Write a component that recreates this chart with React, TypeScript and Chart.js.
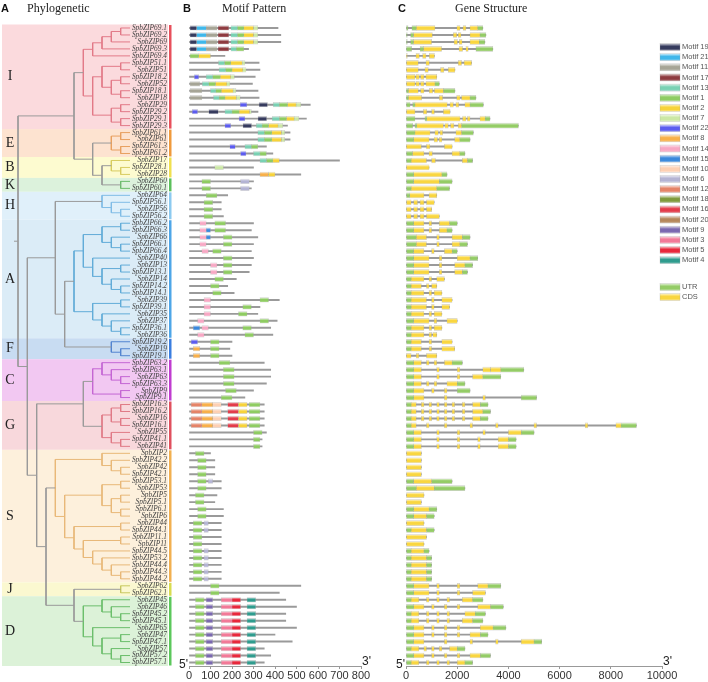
import React, { useEffect, useRef } from "react";
import { Chart, registerables } from "chart.js";
Chart.register(...registerables);

// ---------------- DATA ----------------
const geneNames = [
  "SpbZIP69.1","SpbZIP69.2","SpbZIP69","SpbZIP69.3","SpbZIP69.4","SpbZIP51.1","SpbZIP51","SpbZIP18.2","SpbZIP52","SpbZIP18.1","SpbZIP18","SpbZIP29","SpbZIP29.2","SpbZIP29.1","SpbZIP29.3",
  "SpbZIP61.1","SpbZIP61","SpbZIP61.3","SpbZIP61.2",
  "SpbZIP17","SpbZIP28.1","SpbZIP28",
  "SpbZIP60","SpbZIP60.1",
  "SpbZIP64","SpbZIP56.1","SpbZIP56","SpbZIP56.2",
  "SpbZIP66.2","SpbZIP66.3","SpbZIP66","SpbZIP66.1","SpbZIP66.4","SpbZIP40","SpbZIP13","SpbZIP13.1","SpbZIP14","SpbZIP14.2","SpbZIP14.1","SpbZIP39","SpbZIP39.1","SpbZIP35","SpbZIP37","SpbZIP36.1","SpbZIP36",
  "SpbZIP19.2","SpbZIP19","SpbZIP19.1",
  "SpbZIP63.2","SpbZIP63.1","SpbZIP63","SpbZIP63.3","SpbZIP9","SpbZIP9.1",
  "SpbZIP16.3","SpbZIP16.2","SpbZIP16","SpbZIP16.1","SpbZIP55","SpbZIP41.1","SpbZIP41",
  "SpbZIP2","SpbZIP42.2","SpbZIP42","SpbZIP42.1","SpbZIP53.1","SpbZIP53","SpbZIP5","SpbZIP5.1","SpbZIP6.1","SpbZIP6","SpbZIP44","SpbZIP44.1","SpbZIP11.1","SpbZIP11","SpbZIP44.5","SpbZIP53.2","SpbZIP44.4","SpbZIP44.3","SpbZIP44.2",
  "SpbZIP62","SpbZIP62.1",
  "SpbZIP45","SpbZIP46","SpbZIP45.2","SpbZIP45.1","SpbZIP65","SpbZIP47","SpbZIP47.1","SpbZIP57","SpbZIP57.2","SpbZIP57.1",
];

const cladeLabels = ["I", "E", "B", "K", "H", "A", "F", "C", "G", "S", "J", "D"];
const cladeFirstRow = [0, 15, 19, 22, 24, 28, 45, 48, 54, 61, 80, 82];
const cladeLastRow = [14, 18, 21, 23, 27, 44, 47, 53, 60, 79, 81, 91];
const cladeFill = ["#fbdadd", "#fde3d0", "#fdfbd0", "#dcf2dc", "#e0f0fa", "#dbecf7", "#c8dcf2", "#f2c8f2", "#f8d8dc", "#fdf0dc", "#fbf8d0", "#dcf2d8"];
const cladeBar = ["#e8505c", "#f09a3c", "#f0e050", "#5cc05c", "#8ccaf0", "#4ea6e8", "#3a7ee0", "#c03cd0", "#e0505e", "#f2b050", "#d8dc50", "#5cc85c"];
const cladeBranch = ["#e27a88", "#e8a060", "#d8cc60", "#6cbc6c", "#80bce6", "#62acd8", "#5284d0", "#c466d4", "#e07a86", "#e8b878", "#c8c860", "#6cbe6c"];

// clade subtrees (suffixes of SpbZIP names)
const cladeTrees: any[] = [
  [[[[["69.1", "69.2"], "69"], "69.3"], "69.4"], [[["51.1", "51"], [["18.2", "52"], ["18.1", "18"]]], [["29", "29.2"], ["29.1", "29.3"]]]],
  [["61.1", "61"], ["61.3", "61.2"]],
  ["17", ["28.1", "28"]],
  ["60", "60.1"],
  ["64", ["56.1", ["56", "56.2"]]],
  [[[["66.2", "66.3"], ["66", ["66.1", "66.4"]]], ["40", [["13", "13.1"], ["14", ["14.2", "14.1"]]]]], [["39", "39.1"], ["35", ["37", ["36.1", "36"]]]]],
  ["19.2", ["19", "19.1"]],
  [["63.2", ["63.1", ["63", "63.3"]]], ["9", "9.1"]],
  [[["16.3", "16.2"], ["16", "16.1"]], ["55", ["41.1", "41"]]],
  [["2", ["42.2", ["42", "42.1"]]], [[["53.1", "53"], [["5", "5.1"], ["6.1", "6"]]], [["44", "44.1"], [["11.1", "11"], ["44.5", ["53.2", ["44.4", ["44.3", "44.2"]]]]]]]],
  ["62", "62.1"],
  [["45", ["46", ["45.2", "45.1"]]], ["65", [["47", "47.1"], ["57", ["57.2", "57.1"]]]]],
];
const backboneTree: any = [[0, [1, [2, 3]]], [[4, [5, 6]], [[7, 8], [9, [10, 11]]]]];

const motifIds = [19, 21, 11, 17, 13, 1, 2, 7, 22, 8, 14, 15, 10, 6, 12, 18, 16, 20, 9, 3, 5, 4];
const motifColors = ["#363b5e", "#3fb7ea", "#a6a596", "#8e3b40", "#79d1b3", "#8fcc62", "#f7d33a", "#cce8a6", "#5c5cf0", "#f8b04a", "#f7a8c4", "#3a88dc", "#fdd0b4", "#b4b4d4", "#e58468", "#7f9a3c", "#e33c4a", "#b5875a", "#7a68b0", "#f27a98", "#e8283c", "#2f9c8e"];

const proteinLength = [
  414, 427, 427, 277, 167, 326, 330, 308, 295, 321, 326, 564, 321, 546, 458,
  470, 470, 360, 390,
  700, 300, 520,
  300, 290,
  180, 150, 150, 160,
  300, 290, 320, 300, 290, 300, 290, 280, 220, 180, 210, 420, 330, 320, 410, 380, 390,
  200, 190, 200,
  350, 380, 380, 360, 300, 260,
  350, 350, 350, 350, 360, 340, 340,
  100, 120, 120, 120, 150, 150, 130, 120, 160, 160, 150, 150, 150, 150, 150, 150, 150, 150, 150,
  520, 420,
  450, 500, 450, 450, 500, 400, 480, 350, 380, 350,
];

// [motif id, start, end] per gene
const motifHits: number[][][] = [
  [[19, 5, 35], [21, 35, 80], [11, 80, 130], [17, 135, 185], [13, 195, 225], [1, 225, 255], [2, 255, 300], [7, 300, 320]],
  [[19, 5, 35], [21, 35, 80], [11, 80, 130], [17, 135, 185], [13, 195, 225], [1, 225, 255], [2, 255, 300], [7, 300, 320]],
  [[19, 5, 35], [21, 35, 80], [11, 80, 130], [17, 135, 185], [13, 195, 225], [1, 225, 255], [2, 255, 300], [7, 300, 320]],
  [[19, 5, 35], [21, 35, 80], [11, 80, 130], [17, 135, 185], [13, 195, 220], [1, 220, 255]],
  [[1, 5, 45], [2, 45, 100]],
  [[13, 137, 165], [1, 165, 194], [2, 194, 247], [7, 247, 260]],
  [[13, 140, 170], [1, 170, 200], [2, 200, 250], [7, 250, 265]],
  [[22, 25, 45], [13, 80, 110], [1, 110, 145], [2, 145, 194], [7, 194, 211]],
  [[11, 5, 50], [13, 62, 92], [1, 92, 123], [2, 123, 176], [7, 176, 190]],
  [[11, 5, 60], [13, 100, 125], [1, 125, 150], [2, 150, 205], [7, 205, 218]],
  [[11, 5, 60], [13, 114, 140], [1, 140, 167], [2, 167, 220], [7, 220, 238]],
  [[22, 238, 269], [19, 326, 365], [13, 392, 420], [1, 420, 458], [2, 458, 498], [7, 498, 520]],
  [[22, 15, 40], [19, 92, 136], [13, 167, 200], [1, 200, 233], [2, 233, 282], [7, 282, 290]],
  [[22, 233, 260], [19, 321, 361], [13, 387, 420], [1, 420, 453], [2, 453, 489], [7, 489, 511]],
  [[22, 167, 194], [19, 251, 291], [13, 313, 340], [1, 340, 370], [2, 370, 414], [7, 414, 436]],
  [[13, 320, 350], [1, 350, 385], [2, 385, 430], [7, 430, 445]],
  [[13, 320, 350], [1, 350, 385], [2, 385, 430], [7, 430, 445]],
  [[22, 190, 215], [13, 260, 290], [1, 290, 320]],
  [[22, 240, 265], [13, 300, 330], [1, 330, 360]],
  [[13, 330, 360], [1, 360, 390], [2, 390, 420]],
  [[7, 120, 160]],
  [[8, 330, 370], [2, 370, 400]],
  [[1, 60, 100], [6, 240, 280]],
  [[1, 60, 100], [6, 240, 280]],
  [[1, 80, 130]],
  [[1, 70, 110]],
  [[1, 70, 110]],
  [[1, 70, 110]],
  [[14, 50, 80], [1, 120, 170]],
  [[14, 50, 80], [15, 80, 100], [1, 120, 170]],
  [[14, 50, 80], [15, 80, 100], [1, 160, 200]],
  [[14, 50, 80], [1, 160, 200]],
  [[14, 60, 90], [1, 110, 150]],
  [[1, 160, 200]],
  [[14, 100, 130], [1, 160, 200]],
  [[14, 100, 130], [1, 160, 200]],
  [[1, 120, 160]],
  [[1, 100, 140]],
  [[1, 110, 150]],
  [[14, 70, 100], [1, 330, 370]],
  [[14, 70, 100], [1, 250, 290]],
  [[14, 70, 100], [1, 230, 270]],
  [[14, 40, 70], [1, 330, 370]],
  [[15, 20, 50], [14, 60, 90], [1, 250, 290]],
  [[14, 40, 70], [1, 260, 300]],
  [[22, 10, 40], [1, 100, 140]],
  [[8, 20, 50], [1, 100, 140]],
  [[8, 20, 50], [1, 100, 140]],
  [[1, 140, 190]],
  [[1, 160, 210]],
  [[1, 160, 210]],
  [[1, 160, 210]],
  [[1, 170, 220]],
  [[1, 150, 200]],
  [[12, 10, 60], [8, 60, 110], [10, 110, 150], [16, 180, 230], [2, 230, 270], [1, 280, 330]],
  [[12, 10, 60], [8, 60, 110], [10, 110, 150], [16, 180, 230], [2, 230, 270], [1, 280, 330]],
  [[12, 10, 60], [8, 60, 110], [10, 110, 150], [16, 180, 230], [2, 230, 270], [1, 280, 330]],
  [[12, 10, 60], [8, 60, 110], [10, 110, 150], [16, 180, 230], [2, 230, 270], [1, 280, 330]],
  [[1, 300, 340]],
  [[1, 300, 330]],
  [[1, 300, 330]],
  [[1, 30, 70]],
  [[1, 40, 80]],
  [[1, 40, 80]],
  [[1, 40, 80]],
  [[1, 40, 80], [6, 90, 110]],
  [[1, 40, 80]],
  [[1, 30, 70]],
  [[1, 30, 70]],
  [[1, 40, 80]],
  [[1, 40, 80]],
  [[1, 20, 60], [6, 70, 90]],
  [[1, 20, 60], [6, 70, 90]],
  [[1, 20, 60]],
  [[1, 20, 60]],
  [[1, 20, 60], [6, 70, 90]],
  [[1, 20, 60], [6, 70, 90]],
  [[1, 20, 60], [6, 70, 90]],
  [[1, 20, 60], [6, 70, 90]],
  [[1, 20, 60], [6, 70, 90]],
  [[1, 100, 140]],
  [[1, 100, 140]],
  [[1, 30, 70], [9, 80, 110], [3, 150, 200], [5, 200, 240], [4, 270, 310]],
  [[1, 30, 70], [9, 80, 110], [3, 150, 200], [5, 200, 240], [4, 270, 310]],
  [[1, 30, 70], [9, 80, 110], [3, 150, 200], [5, 200, 240], [4, 270, 310]],
  [[1, 30, 70], [9, 80, 110], [3, 150, 200], [5, 200, 240], [4, 270, 310]],
  [[1, 30, 70], [9, 80, 110], [3, 150, 200], [5, 200, 240], [4, 270, 310]],
  [[1, 30, 70], [9, 80, 110], [3, 150, 200], [5, 200, 240], [4, 270, 310]],
  [[1, 30, 70], [9, 80, 110], [3, 150, 200], [5, 200, 240], [4, 270, 310]],
  [[1, 30, 70], [9, 80, 110], [3, 150, 200], [5, 200, 240], [4, 270, 310]],
  [[1, 30, 70], [9, 80, 110], [3, 150, 200], [5, 200, 240], [4, 270, 310]],
  [[1, 30, 70], [9, 80, 110], [3, 150, 200], [5, 200, 240], [4, 270, 310]],
];

// gene structure: [start, end, kind] kind 0 = UTR, 1 = CDS
const geneExons: number[][][] = [
  [[0, 80, 0], [230, 400, 0], [400, 1130, 1], [1990, 2110, 1], [2230, 2340, 1], [2500, 2800, 1], [2800, 3000, 0]],
  [[0, 50, 0], [180, 290, 0], [290, 1030, 1], [1850, 1980, 1], [2040, 2150, 1], [2500, 2890, 1], [2890, 3120, 0]],
  [[0, 50, 0], [180, 290, 0], [290, 1000, 1], [1880, 2010, 1], [2080, 2190, 1], [2500, 2860, 1], [2860, 3080, 0]],
  [[0, 220, 0], [550, 680, 0], [680, 1390, 1], [2070, 2210, 1], [2340, 2430, 1], [2730, 3390, 0]],
  [[0, 50, 1], [390, 520, 1], [650, 780, 1], [910, 1110, 1]],
  [[0, 480, 1], [780, 910, 1], [2040, 2170, 1], [2270, 2560, 1]],
  [[0, 480, 1], [740, 870, 1], [1350, 1480, 1], [1650, 1910, 1]],
  [[0, 350, 1], [390, 520, 1], [570, 700, 1], [780, 1200, 1]],
  [[0, 350, 1], [390, 520, 1], [570, 700, 1], [780, 1130, 1], [1130, 1300, 0]],
  [[0, 90, 0], [90, 480, 1], [570, 700, 1], [910, 1040, 1], [1110, 1460, 1], [1460, 1910, 0]],
  [[0, 90, 0], [90, 610, 1], [1300, 1430, 1], [1980, 2110, 1], [2170, 2500, 1], [2500, 2730, 0]],
  [[0, 160, 0], [260, 350, 0], [350, 1610, 1], [1720, 1850, 1], [1950, 2060, 1], [2300, 2500, 1], [2500, 3020, 0]],
  [[0, 350, 1], [680, 810, 1], [1000, 1110, 1], [1460, 1720, 1]],
  [[0, 350, 0], [740, 810, 0], [810, 2110, 1], [2210, 2340, 1], [2400, 2500, 1], [2890, 3090, 1], [3090, 3280, 0]],
  [[0, 260, 0], [350, 420, 0], [420, 1460, 1], [1520, 1650, 1], [1740, 1870, 1], [2040, 2170, 1], [2170, 4390, 0]],
  [[0, 350, 0], [350, 940, 1], [1130, 1260, 1], [1330, 1430, 1], [1950, 2170, 1], [2170, 2630, 0]],
  [[0, 300, 0], [300, 900, 1], [1100, 1230, 1], [1300, 1400, 1], [1900, 2100, 1], [2100, 2500, 0]],
  [[0, 600, 1], [800, 930, 1], [1500, 1800, 1]],
  [[0, 250, 0], [250, 700, 1], [900, 1030, 1], [1800, 2100, 1], [2100, 2300, 0]],
  [[0, 200, 0], [200, 800, 1], [1000, 1150, 1], [2200, 2400, 1], [2400, 2600, 0]],
  [[0, 900, 1]],
  [[0, 300, 0], [300, 1400, 1], [1400, 1600, 0]],
  [[0, 300, 0], [300, 1300, 1], [1300, 1800, 0]],
  [[0, 200, 0], [200, 1200, 1], [1200, 1700, 0]],
  [[0, 150, 0], [150, 700, 1], [900, 1200, 1]],
  [[0, 200, 1], [300, 450, 1], [550, 700, 1], [800, 1100, 1]],
  [[0, 200, 1], [300, 450, 1], [550, 700, 1], [800, 1000, 1]],
  [[0, 200, 1], [300, 450, 1], [550, 700, 1], [800, 1300, 1]],
  [[0, 300, 0], [300, 700, 1], [900, 1000, 1], [1300, 1700, 1], [1700, 2000, 0]],
  [[0, 300, 0], [300, 700, 1], [900, 1000, 1], [1300, 1600, 1], [1600, 1800, 0]],
  [[0, 400, 0], [400, 800, 1], [1200, 1300, 1], [1800, 2200, 1], [2200, 2500, 0]],
  [[0, 400, 0], [400, 800, 1], [1200, 1300, 1], [1800, 2100, 1], [2100, 2400, 0]],
  [[0, 300, 0], [300, 700, 1], [1000, 1100, 1], [1500, 1800, 1], [1800, 2000, 0]],
  [[0, 300, 0], [300, 900, 1], [1300, 1400, 1], [2000, 2500, 1], [2500, 2800, 0]],
  [[0, 300, 0], [300, 900, 1], [1300, 1400, 1], [1900, 2300, 1], [2300, 2600, 0]],
  [[0, 300, 0], [300, 900, 1], [1300, 1400, 1], [1900, 2200, 1], [2200, 2400, 0]],
  [[0, 200, 0], [200, 700, 1], [900, 1000, 1], [1200, 1500, 1]],
  [[0, 200, 0], [200, 600, 1], [800, 900, 1], [1000, 1200, 1]],
  [[0, 200, 0], [200, 700, 1], [900, 1000, 1], [1100, 1400, 1]],
  [[0, 200, 0], [200, 800, 1], [1000, 1100, 1], [1400, 1800, 1]],
  [[0, 200, 0], [200, 800, 1], [1000, 1100, 1], [1400, 1700, 1]],
  [[0, 200, 0], [200, 700, 1], [900, 1000, 1], [1100, 1400, 1]],
  [[0, 300, 0], [300, 900, 1], [1100, 1200, 1], [1600, 2000, 1]],
  [[0, 200, 0], [200, 700, 1], [900, 1000, 1], [1100, 1400, 1]],
  [[0, 200, 0], [200, 700, 1], [900, 1000, 1], [1050, 1200, 1]],
  [[0, 200, 0], [200, 600, 1], [900, 1000, 1], [1400, 1800, 1]],
  [[0, 200, 0], [200, 600, 1], [900, 1000, 1], [1400, 1900, 1]],
  [[0, 200, 1], [400, 500, 1], [800, 1200, 1]],
  [[0, 300, 0], [300, 600, 1], [800, 900, 1], [1100, 1200, 1], [1500, 1800, 1], [1800, 2200, 0]],
  [[0, 300, 0], [300, 600, 1], [1200, 1300, 1], [2000, 2100, 1], [3000, 3300, 1], [3300, 3700, 1], [3700, 4600, 0]],
  [[0, 300, 0], [300, 600, 1], [1200, 1300, 1], [2000, 2100, 1], [2600, 3000, 1], [3000, 3700, 0]],
  [[0, 300, 0], [300, 600, 1], [800, 900, 1], [1100, 1200, 1], [1600, 2000, 1], [2000, 2300, 0]],
  [[0, 300, 0], [300, 700, 1], [1000, 1100, 1], [1500, 1600, 1], [2000, 2500, 0]],
  [[0, 300, 0], [300, 700, 1], [1500, 1600, 1], [3000, 3100, 1], [4500, 5100, 0]],
  [[0, 200, 0], [200, 400, 1], [600, 700, 1], [900, 1000, 1], [1200, 1300, 1], [1500, 1600, 1], [1800, 1900, 1], [2200, 2300, 1], [2600, 2900, 1], [2900, 3200, 0]],
  [[0, 200, 0], [200, 400, 1], [600, 700, 1], [900, 1000, 1], [1200, 1300, 1], [1500, 1600, 1], [1800, 1900, 1], [2200, 2300, 1], [2600, 3000, 1], [3000, 3300, 0]],
  [[0, 200, 0], [200, 400, 1], [600, 700, 1], [900, 1000, 1], [1200, 1300, 1], [1500, 1600, 1], [1800, 1900, 1], [2200, 2300, 1], [2600, 2900, 1], [2900, 3200, 0]],
  [[0, 200, 0], [200, 400, 1], [800, 900, 1], [1500, 1600, 1], [2500, 2600, 1], [3500, 3600, 1], [5000, 5100, 1], [7000, 7100, 1], [8200, 8400, 1], [8400, 9000, 0]],
  [[0, 300, 0], [300, 600, 1], [1200, 1300, 1], [2000, 2100, 1], [3000, 3100, 1], [4000, 4500, 1], [4500, 5000, 0]],
  [[0, 300, 0], [300, 600, 1], [1200, 1300, 1], [2000, 2100, 1], [2800, 2900, 1], [3600, 4000, 1], [4000, 4300, 0]],
  [[0, 300, 0], [300, 600, 1], [1200, 1300, 1], [2000, 2100, 1], [2800, 2900, 1], [3600, 4000, 1], [4000, 4300, 0]],
  [[0, 600, 1]],
  [[0, 600, 1]],
  [[0, 600, 1]],
  [[0, 600, 1]],
  [[0, 300, 0], [300, 1000, 1], [1000, 1800, 0]],
  [[0, 400, 0], [400, 1100, 1], [1100, 2300, 0]],
  [[0, 700, 1]],
  [[0, 600, 1]],
  [[0, 300, 0], [300, 900, 1], [900, 1200, 0]],
  [[0, 300, 0], [300, 800, 1], [800, 1100, 0]],
  [[0, 700, 1]],
  [[0, 200, 0], [200, 800, 1], [800, 1100, 0]],
  [[0, 800, 1]],
  [[0, 700, 1]],
  [[0, 200, 0], [200, 700, 1], [700, 900, 0]],
  [[0, 200, 0], [200, 800, 1], [800, 1000, 0]],
  [[0, 200, 0], [200, 800, 1], [800, 1000, 0]],
  [[0, 200, 0], [200, 800, 1], [800, 1000, 0]],
  [[0, 200, 0], [200, 800, 1], [800, 1000, 0]],
  [[0, 300, 0], [300, 900, 1], [1200, 1300, 1], [2000, 2100, 1], [2800, 3200, 1], [3200, 3700, 0]],
  [[0, 300, 0], [300, 900, 1], [1200, 1300, 1], [2000, 2100, 1], [2600, 3100, 1]],
  [[0, 200, 0], [200, 500, 1], [800, 900, 1], [1200, 1300, 1], [1600, 1700, 1], [2200, 2600, 1], [2600, 3000, 0]],
  [[0, 300, 0], [300, 700, 1], [1000, 1100, 1], [1500, 1600, 1], [2000, 2100, 1], [2800, 3300, 1], [3300, 3800, 0]],
  [[0, 200, 0], [200, 500, 1], [800, 900, 1], [1200, 1300, 1], [1600, 1700, 1], [2300, 2700, 1], [2700, 3100, 0]],
  [[0, 200, 0], [200, 500, 1], [800, 900, 1], [1200, 1300, 1], [1600, 1700, 1], [2200, 2600, 1], [2600, 3000, 0]],
  [[0, 300, 0], [300, 700, 1], [1000, 1100, 1], [1500, 1600, 1], [2000, 2100, 1], [2900, 3400, 1], [3400, 3900, 0]],
  [[0, 300, 0], [300, 700, 1], [1000, 1100, 1], [1500, 1600, 1], [2000, 2100, 1], [2500, 2900, 1], [2900, 3200, 0]],
  [[0, 300, 0], [300, 700, 1], [1500, 1600, 1], [2500, 2600, 1], [3500, 3600, 1], [4500, 5000, 1], [5000, 5300, 0]],
  [[0, 200, 0], [200, 500, 1], [700, 800, 1], [1000, 1100, 1], [1300, 1400, 1], [1700, 2000, 1], [2000, 2300, 0]],
  [[0, 300, 0], [300, 700, 1], [1000, 1100, 1], [1500, 1600, 1], [2000, 2100, 1], [2500, 2900, 1], [2900, 3300, 0]],
  [[0, 200, 0], [200, 500, 1], [800, 900, 1], [1200, 1300, 1], [1600, 1700, 1], [2000, 2300, 1], [2300, 2600, 0]],
];

const utrColor = "#94cc66";
const cdsColor = "#f9d640";
const motifTicks = [0, 100, 200, 300, 400, 500, 600, 700, 800];
const geneTicks = [0, 2000, 4000, 6000, 8000, 10000];

// ---------------- LAYOUT CONSTANTS ----------------
const H = 682;
const AREA_TOP = 24.5;
const AREA_BOTTOM = 666;
const AXIS_H = 16;
const N = geneNames.length;
const SANS = "'Liberation Sans', Arial, sans-serif";
const SERIF = "'Liberation Serif', 'Times New Roman', serif";

// ---------------- COLOR HELPERS ----------------
function lighten(hex: string, t: number) {
  const n = parseInt(hex.slice(1), 16);
  const r = (n >> 16) & 255, g = (n >> 8) & 255, b = n & 255;
  const m = (c: number) => Math.round(c + (255 - c) * t);
  return `rgb(${m(r)},${m(g)},${m(b)})`;
}
function tubeGradient(ctx: CanvasRenderingContext2D, base: string, yMid: number, half: number) {
  const g = ctx.createLinearGradient(0, yMid - half, 0, yMid + half);
  g.addColorStop(0, lighten(base, 0.75));
  g.addColorStop(0.4, base);
  g.addColorStop(0.75, base);
  g.addColorStop(1, lighten(base, 0.45));
  return g;
}
function scriptedFill(getBase: (c: any) => string, half: number) {
  return (c: any) => {
    const base = getBase(c);
    if (c.type !== "data" || !c.chart.scales || !c.chart.scales.y) return base;
    const y = c.chart.scales.y.getPixelForValue(c.dataIndex);
    if (!isFinite(y)) return base;
    return tubeGradient(c.chart.ctx, base, y, half);
  };
}

// ---------------- TREE BUILD ----------------
type TNode = { children?: TNode[]; row?: number; clade: number; x?: number; y?: number; h?: number };
function fromClade(n: any, clade: number): TNode {
  if (typeof n === "string") return { row: geneNames.indexOf("SpbZIP" + n), clade };
  return { children: n.map((c: any) => fromClade(c, clade)), clade };
}
function fromBackbone(n: any): TNode {
  if (typeof n === "number") return fromClade(cladeTrees[n], n);
  return { children: n.map(fromBackbone), clade: -1 };
}
function heightOf(n: TNode): number {
  n.h = n.children ? 1 + Math.max(...n.children.map(heightOf)) : 0;
  return n.h;
}
function buildTreeDatasets(tipX: number, rootX: number) {
  const root = fromBackbone(backboneTree);
  const maxH = heightOf(root);
  const step = (tipX - rootX) / maxH;
  const place = (n: TNode) => {
    n.x = tipX - (n.h as number) * step;
    if (n.children) {
      n.children.forEach(place);
      n.y = (n.children[0].y! + n.children[n.children.length - 1].y!) / 2;
    } else n.y = n.row;
  };
  place(root);
  const groups: Record<string, { x: number | null; y: number | null }[]> = {};
  const add = (color: string, pts: [number, number][]) => {
    if (!groups[color]) groups[color] = [];
    pts.forEach(([x, y]) => groups[color].push({ x, y }));
    groups[color].push({ x: null, y: null });
  };
  const walk = (n: TNode) => {
    if (!n.children) return;
    const col = n.clade >= 0 ? cladeBranch[n.clade] : "#9a9a9a";
    const c0 = n.children[0], c1 = n.children[n.children.length - 1];
    add(col, [[n.x!, c0.y!], [n.x!, c1.y!]]);
    n.children.forEach((c) => {
      const ec = c.clade >= 0 && c.clade === n.clade ? cladeBranch[c.clade] : c.clade >= 0 && !c.children ? cladeBranch[c.clade] : "#9a9a9a";
      add(ec, [[n.x!, c.y!], [c.x!, c.y!]]);
      walk(c);
    });
  };
  add("#9a9a9a", [[rootX - 4, root.y!], [rootX, root.y!]]);
  walk(root);
  return Object.keys(groups).map((color) => ({
    type: "scatter" as const,
    data: groups[color],
    showLine: true,
    borderColor: color,
    borderWidth: 1,
    pointRadius: 0,
    spanGaps: false,
  }));
}

// ---------------- PLUGINS ----------------
const cladePlugin = {
  id: "clades",
  beforeDraw(chart: any) {
    const { ctx } = chart;
    const ys = chart.scales.y;
    ctx.save();
    cladeLabels.forEach((_, i) => {
      const y0 = ys.getPixelForValue(cladeFirstRow[i] - 0.5);
      const y1 = ys.getPixelForValue(cladeLastRow[i] + 0.5);
      ctx.fillStyle = cladeFill[i];
      ctx.fillRect(2, y0, 166, y1 - y0);
      ctx.fillStyle = cladeBar[i];
      ctx.fillRect(169, y0 + 0.5, 2.5, y1 - y0 - 1);
    });
    ctx.restore();
  },
  afterDraw(chart: any) {
    const { ctx } = chart;
    const ys = chart.scales.y;
    ctx.save();
    ctx.fillStyle = "#222";
    ctx.font = `14px ${SERIF}`;
    ctx.textAlign = "center";
    ctx.textBaseline = "middle";
    cladeLabels.forEach((lab, i) => {
      const y = ys.getPixelForValue((cladeFirstRow[i] + cladeLastRow[i]) / 2);
      ctx.fillText(lab, 10, y);
    });
    ctx.restore();
  },
};

const primePlugin = {
  id: "primes",
  afterDraw(chart: any) {
    const { ctx, chartArea } = chart;
    ctx.save();
    ctx.fillStyle = "#222";
    ctx.font = `12px ${SANS}`;
    ctx.textBaseline = "alphabetic";
    ctx.textAlign = "right";
    ctx.fillText("5'", chartArea.left - 1, chartArea.bottom + 2);
    ctx.textAlign = "left";
    ctx.fillText("3'", chartArea.right + 1, chartArea.bottom - 1);
    ctx.restore();
  },
};

const legendPlugin = {
  id: "motifLegend",
  afterDraw(chart: any) {
    const { ctx } = chart;
    const lx = 270;
    ctx.save();
    ctx.font = `7.5px ${SANS}`;
    ctx.textBaseline = "middle";
    ctx.textAlign = "left";
    const items = motifIds.map((id, i) => ({ label: `Motif ${id}`, color: motifColors[i] }));
    const swatch = (col: string, y: number) => {
      ctx.fillStyle = tubeGradient(ctx, col, y, 3.5);
      ctx.fillRect(lx, y - 3.5, 20, 7);
      ctx.strokeStyle = "rgba(160,160,160,0.5)";
      ctx.lineWidth = 0.5;
      ctx.strokeRect(lx, y - 3.5, 20, 7);
    };
    items.forEach((it, i) => {
      const y = 47 + i * 10.15;
      swatch(it.color, y);
      ctx.fillStyle = "#555";
      ctx.fillText(it.label, lx + 22, y);
    });
    [["UTR", utrColor], ["CDS", cdsColor]].forEach(([lab, col], i) => {
      const y = 287 + i * 10;
      swatch(col, y);
      ctx.fillStyle = "#555";
      ctx.fillText(lab, lx + 22, y);
    });
    ctx.restore();
  },
};

// ---------------- DATASET BUILDERS ----------------
function motifDatasets() {
  const sets: any[] = [];
  motifIds.forEach((id, mi) => {
    const perGene = motifHits.map((hits) => hits.filter((h) => h[0] === id));
    const maxOcc = Math.max(0, ...perGene.map((p) => p.length));
    for (let k = 0; k < maxOcc; k++) {
      sets.push({
        label: `Motif ${id}`,
        data: perGene.map((p) => (p[k] ? [p[k][1], p[k][2]] : null)),
        backgroundColor: scriptedFill(() => motifColors[mi], 2.3),
        borderColor: "rgba(170,170,170,0.55)",
        borderWidth: 0.5,
        borderSkipped: false,
        barThickness: 4.6,
        grouped: false,
        order: 1,
      });
    }
  });
  sets.push({
    label: "protein",
    data: proteinLength.map((l) => [0, l]),
    backgroundColor: "#9a9a9a",
    borderWidth: 0,
    barThickness: 1.3,
    grouped: false,
    order: 10,
  });
  return sets;
}

function geneDatasets() {
  const sets: any[] = [];
  const maxEx = Math.max(...geneExons.map((g) => g.length));
  for (let k = 0; k < maxEx; k++) {
    sets.push({
      label: `exon ${k + 1}`,
      data: geneExons.map((g) => (g[k] ? [g[k][0], g[k][1]] : null)),
      backgroundColor: scriptedFill((c) => {
        const g = geneExons[c.dataIndex];
        return g && g[k] && g[k][2] === 0 ? utrColor : cdsColor;
      }, 2.5),
      borderColor: "rgba(160,160,160,0.6)",
      borderWidth: 0.5,
      borderSkipped: false,
      barThickness: 5,
      grouped: false,
      order: 1,
    });
  }
  sets.push({
    label: "gene",
    data: geneExons.map((g) => [0, Math.max(...g.map((e) => e[1]))]),
    backgroundColor: "#9a9a9a",
    borderWidth: 0,
    barThickness: 1.3,
    grouped: false,
    order: 10,
  });
  return sets;
}

function axisX(min: number, max: number, ticks: number[]) {
  return {
    type: "linear" as const,
    min,
    max,
    position: "bottom" as const,
    afterBuildTicks: (s: any) => {
      s.ticks = ticks.map((v) => ({ value: v }));
    },
    afterFit: (s: any) => {
      s.height = AXIS_H;
    },
    ticks: {
      font: { family: SANS, size: 11 },
      color: "#333",
      padding: 0,
      maxRotation: 0,
      autoSkip: false,
      callback: (v: any) => String(v),
    },
    grid: { drawOnChartArea: false, drawTicks: true, tickLength: 3, color: "#999" },
    border: { color: "#999", width: 1 },
  };
}

// ---------------- COMPONENT ----------------
export default function App() {
  const treeRef = useRef<HTMLCanvasElement>(null);
  const motifRef = useRef<HTMLCanvasElement>(null);
  const geneRef = useRef<HTMLCanvasElement>(null);

  useEffect(() => {
    const charts: Chart[] = [];
    const tipX = 128;
    charts.push(
      new Chart(treeRef.current!, {
        type: "scatter",
        data: { datasets: buildTreeDatasets(tipX, 16) as any },
        options: {
          animation: false,
          responsive: false,
          layout: { padding: { left: 2, right: 9, top: AREA_TOP, bottom: H - AREA_BOTTOM } },
          plugins: { legend: { display: false }, tooltip: { enabled: false } },
          scales: {
            x: { type: "linear", display: false, min: 0, max: tipX + 2 },
            y: {
              type: "linear",
              position: "right",
              reverse: true,
              min: -0.5,
              max: N - 0.5,
              afterBuildTicks: (s: any) => {
                s.ticks = geneNames.map((_, i) => ({ value: i }));
              },
              afterFit: (s: any) => {
                s.width = 35;
              },
              ticks: {
                autoSkip: false,
                crossAlign: "far",
                padding: 0,
                color: "#444",
                font: { family: SERIF, style: "italic", size: 7.4 },
                callback: (v: any) => geneNames[v as number] ?? "",
              },
              grid: { display: false },
              border: { display: false },
            },
          },
        } as any,
        plugins: [cladePlugin],
      })
    );
    charts.push(
      new Chart(motifRef.current!, {
        type: "bar",
        data: { labels: geneNames, datasets: motifDatasets() },
        options: {
          indexAxis: "y",
          animation: false,
          responsive: false,
          layout: { padding: { left: 17, right: 19, top: AREA_TOP, bottom: H - AREA_BOTTOM - AXIS_H } },
          plugins: { legend: { display: false }, tooltip: { enabled: false } },
          scales: {
            y: { type: "category", display: false, offset: true },
            x: axisX(0, 800, motifTicks),
          },
        } as any,
        plugins: [primePlugin],
      })
    );
    charts.push(
      new Chart(geneRef.current!, {
        type: "bar",
        data: { labels: geneNames, datasets: geneDatasets() },
        options: {
          indexAxis: "y",
          animation: false,
          responsive: false,
          layout: { padding: { left: 16, right: 46, top: AREA_TOP, bottom: H - AREA_BOTTOM - AXIS_H } },
          plugins: { legend: { display: false }, tooltip: { enabled: false } },
          scales: {
            y: { type: "category", display: false, offset: true },
            x: axisX(0, 10000, geneTicks),
          },
        } as any,
        plugins: [primePlugin, legendPlugin],
      })
    );
    return () => charts.forEach((c) => c.destroy());
  }, []);

  const title = (letter: string, text: string, lx: number, tx: number) => (
    <>
      <div style={{ position: "absolute", left: lx, top: 2, font: `bold 11px ${SANS}`, color: "#111" }}>{letter}</div>
      <div style={{ position: "absolute", left: tx, top: 1, font: `12px ${SERIF}`, color: "#222" }}>{text}</div>
    </>
  );

  return (
    <div style={{ position: "absolute", left: 0, top: 0, width: 708, height: 682, background: "#fff", overflow: "hidden" }}>
      <canvas ref={treeRef} width={176} height={H} style={{ position: "absolute", left: 0, top: 0, width: 176, height: H }} />
      <canvas ref={motifRef} width={208} height={H} style={{ position: "absolute", left: 172, top: 0, width: 208, height: H }} />
      <canvas ref={geneRef} width={318} height={H} style={{ position: "absolute", left: 390, top: 0, width: 318, height: H }} />
      {title("A", "Phylogenetic", 1, 27)}
      {title("B", "Motif Pattern", 183, 222)}
      {title("C", "Gene Structure", 398, 455)}
    </div>
  );
}
